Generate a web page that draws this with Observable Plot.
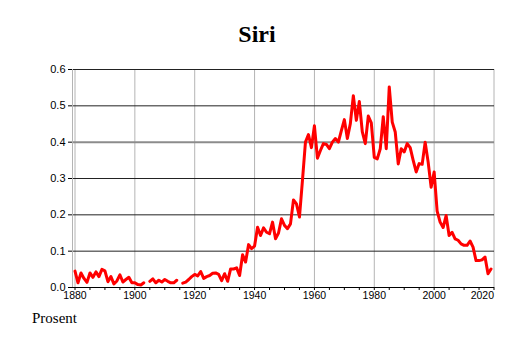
<!DOCTYPE html>
<html>
<head>
<meta charset="utf-8">
<script src="https://cdn.jsdelivr.net/npm/d3@7"></script>
<script src="https://cdn.jsdelivr.net/npm/@observablehq/plot@0.6"></script>
<style>
  html, body { margin: 0; padding: 0; background: #fff; }
  #wrap { position: relative; width: 514px; height: 343px; overflow: hidden; }
  #title { position: absolute; left: 0; width: 514px; top: 21px; text-align: center;
           font-family: "Liberation Serif", "Times New Roman", serif; font-weight: bold; font-size: 24px; }
  #caption { position: absolute; left: 32px; top: 310px;
             font-family: "Liberation Serif", "Times New Roman", serif; font-size: 15px; }
  #chart { position: absolute; left: 0; top: 0; }
</style>
</head>
<body>
<div id="wrap">
  <div id="chart"></div>
  <div id="title">Siri</div>
  <div id="caption">Prosent</div>
</div>
<script>
const titleText = "Siri";
const captionText = "Prosent";
const startYear = 1880;
// Share (percent) per year from 1880; null = no data
const share = [
  0.045, 0.013, 0.040, 0.025, 0.014, 0.040, 0.028, 0.043, 0.030, 0.050, // 1880-1889
  0.046, 0.016, 0.030, 0.010, 0.018, 0.035, 0.015, 0.022, 0.028, 0.013, // 1890-1899
  0.013, 0.008, 0.007, 0.013, null,  0.017, 0.024, 0.013, 0.020, 0.015, // 1900-1909
  0.022, 0.017, 0.013, 0.013, 0.020, null,  0.012, 0.015, 0.022, 0.030, // 1910-1919
  0.036, 0.032, 0.044, 0.025, 0.030, 0.033, 0.039, 0.040, 0.036, 0.019, // 1920-1929
  0.038, 0.017, 0.051, 0.051, 0.054, 0.033, 0.090, 0.070, 0.118, 0.107, // 1930-1939
  0.114, 0.166, 0.143, 0.164, 0.152, 0.148, 0.180, 0.134, 0.150, 0.189, // 1940-1949
  0.171, 0.162, 0.175, 0.241, 0.230, 0.194, 0.295, 0.400, 0.421, 0.385, // 1950-1959
  0.445, 0.356, 0.377, 0.396, 0.394, 0.382, 0.400, 0.410, 0.400, 0.432, // 1960-1969
  0.462, 0.410, 0.451, 0.528, 0.460, 0.512, 0.428, 0.396, 0.472, 0.453, // 1970-1979
  0.358, 0.354, 0.382, 0.470, 0.382, 0.552, 0.455, 0.428, 0.340, 0.382, // 1980-1989
  0.373, 0.396, 0.385, 0.350, 0.318, 0.341, 0.339, 0.400, 0.345, 0.276, // 1990-1999
  0.318, 0.210, 0.180, 0.165, 0.198, 0.143, 0.152, 0.134, 0.130, 0.120, // 2000-2009
  0.116, 0.116, 0.128, 0.111, 0.074, 0.074, 0.076, 0.084, 0.038, 0.051  // 2010-2019
];
const xTicks = [1880, 1900, 1920, 1940, 1960, 1980, 2000, 2020];
const xMinorTicks = [1885,1890,1895,1905,1910,1915,1925,1930,1935,1945,1950,1955,1965,1970,1975,1985,1990,1995,2005,2010,2015];
const yTicks = [0, 0.1, 0.2, 0.3, 0.4, 0.5, 0.6];
const yGridBlack = [0.1, 0.2, 0.3, 0.5, 0.6];
const yGridGray = [0.4];

const rows = share.map((v, i) => ({year: startYear + i, value: v}));

document.getElementById("title").textContent = titleText;
document.getElementById("caption").textContent = captionText;

const chart = Plot.plot({
  width: 514,
  height: 343,
  marginLeft: 72,
  marginRight: 20,
  marginTop: 69,
  marginBottom: 56,
  insetLeft: 2.5,
  insetRight: 0.5,
  style: {fontFamily: "'Liberation Sans', Arial, sans-serif", fontSize: "10.5px", color: "#000", background: "#fff"},
  x: {domain: [1880, 2020], label: null},
  y: {domain: [0, 0.6], label: null},
  marks: [
    Plot.ruleX(xTicks, {stroke: "#b4b4b4", strokeWidth: 1}),
    Plot.ruleY(yGridBlack, {stroke: "#222", strokeWidth: 1}),
    Plot.ruleY(yGridGray, {stroke: "#8c8c8c", strokeWidth: 2}),
    Plot.frame({anchor: "left", stroke: "#b4b4b4"}),
    Plot.ruleY([0], {stroke: "#000", strokeWidth: 1}),
    Plot.line(rows, {x: "year", y: "value", stroke: "#ff0000", strokeWidth: 3, curve: "linear"}),
    Plot.axisY({ticks: yTicks, tickFormat: d3.format(".1f"), tickSize: 4, tickPadding: 3, label: null, fontSize: 11}),
    Plot.axisX({ticks: xTicks.slice(0, -1), tickFormat: d => String(d), tickSize: 3, tickPadding: 1, label: null, fontSize: 10.5}),
    Plot.axisX({ticks: [2020], tickFormat: d => String(d), tickSize: 3, tickPadding: 1, textAnchor: "end", label: null, fontSize: 10.5}),
    Plot.axisX({ticks: xMinorTicks, tickFormat: () => "", tickSize: 3, label: null})
  ]
});
document.getElementById("chart").appendChild(chart);
</script>
</body>
</html>
